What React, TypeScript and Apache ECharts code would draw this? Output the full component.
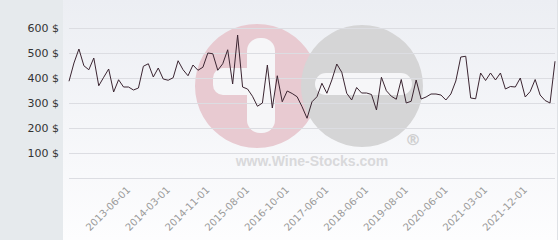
import { useEffect, useRef } from 'react';
import * as echarts from 'echarts';

const values: number[] = [
  387, 460, 516, 449, 433, 480, 369, 403, 436, 344,
  393, 364, 364, 352, 360, 447, 457, 404, 440, 396,
  391, 401, 469, 433, 409, 452, 431, 443, 500, 497,
  431, 457, 513, 376, 572, 364, 356, 327, 287, 300,
  452, 280, 409, 305, 348, 338, 325, 285, 239, 305,
  325, 379, 339, 392, 456, 423, 339, 312, 362, 340,
  340, 334, 272, 403, 349, 327, 315, 394, 300, 307,
  392, 316, 324, 336, 336, 332, 312, 336, 388, 484,
  487, 320, 317, 420, 390, 420, 392, 420, 356, 366,
  364, 400, 324, 346, 394, 332, 310, 300, 467,
];

const tickIndex: number[] = [12, 20, 28, 36, 44, 52, 60, 68, 76, 84, 92];
const tickLabels: string[] = [
  '2013-06-01', '2014-03-01', '2014-11-01', '2015-08-01', '2016-10-01',
  '2017-06-01', '2018-06-01', '2019-08-01', '2020-06-01', '2021-03-01', '2021-12-01',
];

const yMin = 0;
const yMax = 600;
const yStep = 100;

export default function App() {
  const ref = useRef<HTMLDivElement>(null);
  useEffect(() => {
    if (!ref.current) return;
    const chart = echarts.init(ref.current, null, { renderer: 'svg' });
    const categories = values.map((_, i) => {
      const k = tickIndex.indexOf(i);
      return k >= 0 ? tickLabels[k] : '';
    });
    chart.setOption({
      animation: false,
      backgroundColor: '#ffffff',
      grid: { left: 69, right: 5, top: 28, bottom: 62, containLabel: false },
      graphic: [
        { type: 'rect', z: -100, silent: true, shape: { x: 0, y: 0, width: 63, height: 240 }, style: { fill: '#e6eaed' } },
        {
          type: 'rect', z: -100, silent: true,
          shape: { x: 63, y: 0, width: 494, height: 240 },
          style: {
            fill: new echarts.graphic.LinearGradient(0, 0, 0, 1, [
              { offset: 0, color: '#eceef3' },
              { offset: 1, color: '#fdfdfe' },
            ]),
          },
        },
        { type: 'line', z: -90, silent: true, shape: { x1: 557.5, y1: 0, x2: 557.5, y2: 240 }, style: { stroke: '#dfe2e6', lineWidth: 1 } },
        { type: 'circle', z: -50, silent: true, shape: { cx: 257, cy: 86, r: 62 }, style: { fill: '#e8cad1' } },
        { type: 'circle', z: -49, silent: true, shape: { cx: 362, cy: 86, r: 61 }, style: { fill: '#d5d5d6' } },
        { type: 'rect', z: -48, silent: true, shape: { x: 247, y: 38, width: 28, height: 95, r: 13 }, style: { fill: '#f6f6f8' } },
        { type: 'rect', z: -48, silent: true, shape: { x: 213, y: 68, width: 62, height: 27, r: 10 }, style: { fill: '#f6f6f8' } },
        { type: 'rect', z: -48, silent: true, shape: { x: 315, y: 73, width: 97, height: 22, r: 11 }, style: { fill: '#f6f6f8' } },
        {
          type: 'text', z: -47, silent: true, x: 413, y: 139,
          style: { text: '®', fill: '#cfcfd0', font: 'bold 16px "DejaVu Sans"', textAlign: 'center', textVerticalAlign: 'middle', align: 'center', verticalAlign: 'middle' },
        },
        {
          type: 'text', z: -47, silent: true, x: 312, y: 161,
          style: { text: 'www.Wine-Stocks.com', fill: '#d9d9db', font: 'bold 14px "Liberation Sans"', textAlign: 'center', textVerticalAlign: 'middle', align: 'center', verticalAlign: 'middle' },
        },
      ],
      xAxis: {
        type: 'category',
        boundaryGap: false,
        data: categories,
        axisLine: { show: false },
        axisTick: { show: false },
        splitLine: { show: false },
        axisLabel: {
          interval: (index: number) => tickIndex.indexOf(index) >= 0,
          rotate: 45,
          margin: 10,
          color: '#9a9a9a',
          fontSize: 10,
          fontFamily: 'DejaVu Sans',
        },
      },
      yAxis: {
        type: 'value',
        min: yMin,
        max: yMax,
        interval: yStep,
        axisLine: { show: false },
        axisTick: { show: false },
        splitLine: { show: true, lineStyle: { color: '#dcdde2', width: 1 } },
        axisLabel: {
          formatter: (v: number) => (v === 0 ? '' : `${v} $`),
          color: '#333333',
          fontSize: 11,
          fontFamily: 'DejaVu Sans',
          margin: 10,
        },
      },
      series: [
        {
          type: 'line',
          data: values,
          symbol: 'none',
          lineStyle: { color: '#3b2531', width: 1 },
          z: 5,
        },
      ],
    });
    return () => chart.dispose();
  }, []);
  return <div ref={ref} style={{ position: 'absolute', left: 0, top: 0, width: 560, height: 240 }} />;
}
